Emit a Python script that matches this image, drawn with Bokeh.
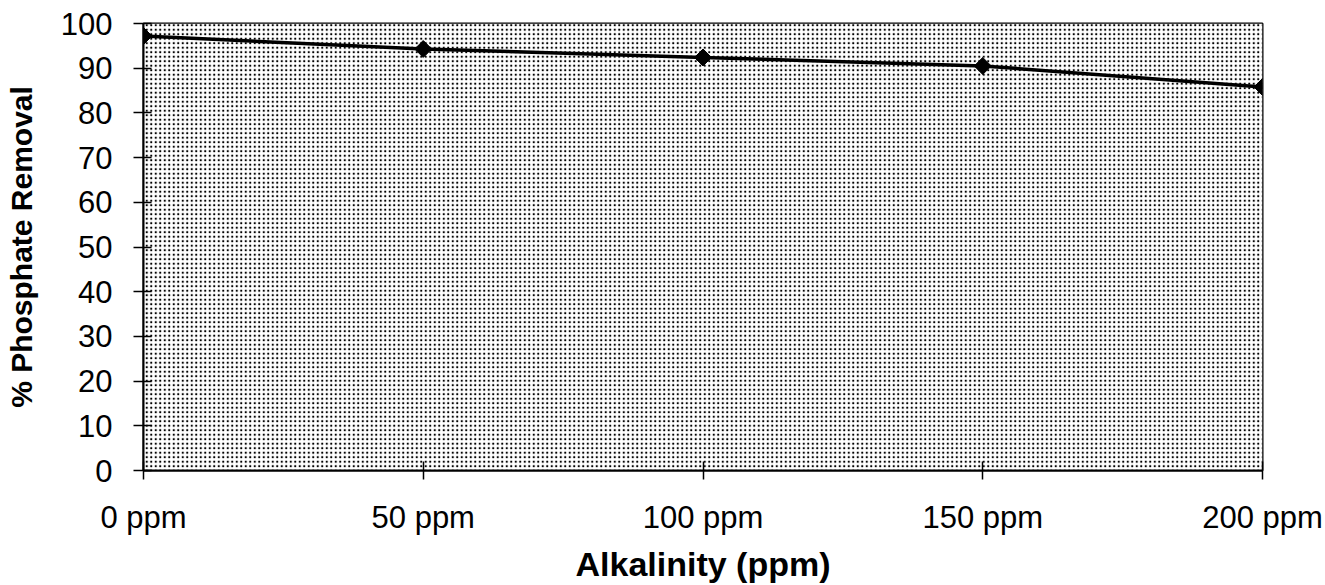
import math
from bokeh.plotting import figure
from bokeh.models import BoxAnnotation, Range1d, FixedTicker
from bokeh.embed import file_html
from bokeh.resources import INLINE

# Phosphate removal vs. alkalinity
alkalinity = [0, 50, 100, 150, 200]
removal = [97.2, 94.3, 92.4, 90.5, 85.8]
x_tick_labels = ["0 ppm", "50 ppm", "100 ppm", "150 ppm", "200 ppm"]
y_ticks = [0, 10, 20, 30, 40, 50, 60, 70, 80, 90, 100]

FONT = "Liberation Sans"

p = figure(width=1325, height=585, output_backend="svg", toolbar_location=None,
           x_range=Range1d(0, 200), y_range=Range1d(0, 100),
           min_border_left=143, min_border_right=63,
           min_border_top=23, min_border_bottom=115)

p.xgrid.visible = False
p.ygrid.visible = False
p.background_fill_color = "white"
p.border_fill_color = "white"
p.outline_line_color = "black"
p.outline_line_width = 2

# stippled plot area
p.add_layout(BoxAnnotation(fill_color="#ffffff", fill_alpha=1.0, line_alpha=0,
                           hatch_pattern="dot", hatch_color="black",
                           hatch_scale=4.5, hatch_weight=2.5, level="underlay"))

p.line(alkalinity, removal, line_color="black", line_width=3.5)
# square diamonds: squares turned by 45 degrees
p.scatter(alkalinity, removal, marker="square", angle=math.pi / 4, size=12, color="black")

for ax in (p.xaxis[0], p.yaxis[0]):
    ax.axis_line_color = "black"
    ax.axis_line_width = 2
    ax.major_tick_line_color = "black"
    ax.major_tick_line_width = 1.5
    ax.minor_tick_line_color = None
    ax.major_label_text_font = FONT
    ax.major_label_text_font_size = "31px"
    ax.major_label_text_color = "black"
    ax.axis_label_text_font = FONT
    ax.axis_label_text_font_style = "bold"
    ax.axis_label_text_color = "black"

p.xaxis.ticker = FixedTicker(ticks=alkalinity)
p.xaxis.major_label_overrides = {v: s for v, s in zip(alkalinity, x_tick_labels)}
p.xaxis.major_tick_in = 9
p.xaxis.major_tick_out = 9
p.xaxis.major_label_standoff = 20
p.xaxis.axis_label = "Alkalinity (ppm)"
p.xaxis.axis_label_text_font_size = "34px"
p.xaxis.axis_label_standoff = 7

p.yaxis.ticker = FixedTicker(ticks=y_ticks)
p.yaxis.major_tick_in = 8
p.yaxis.major_tick_out = 10
p.yaxis.major_label_standoff = 21
p.yaxis.axis_label = "% Phosphate Removal"
p.yaxis.axis_label_text_font_size = "30px"
p.yaxis.axis_label_standoff = 20

open("out.html", "w").write(file_html(p, INLINE))
